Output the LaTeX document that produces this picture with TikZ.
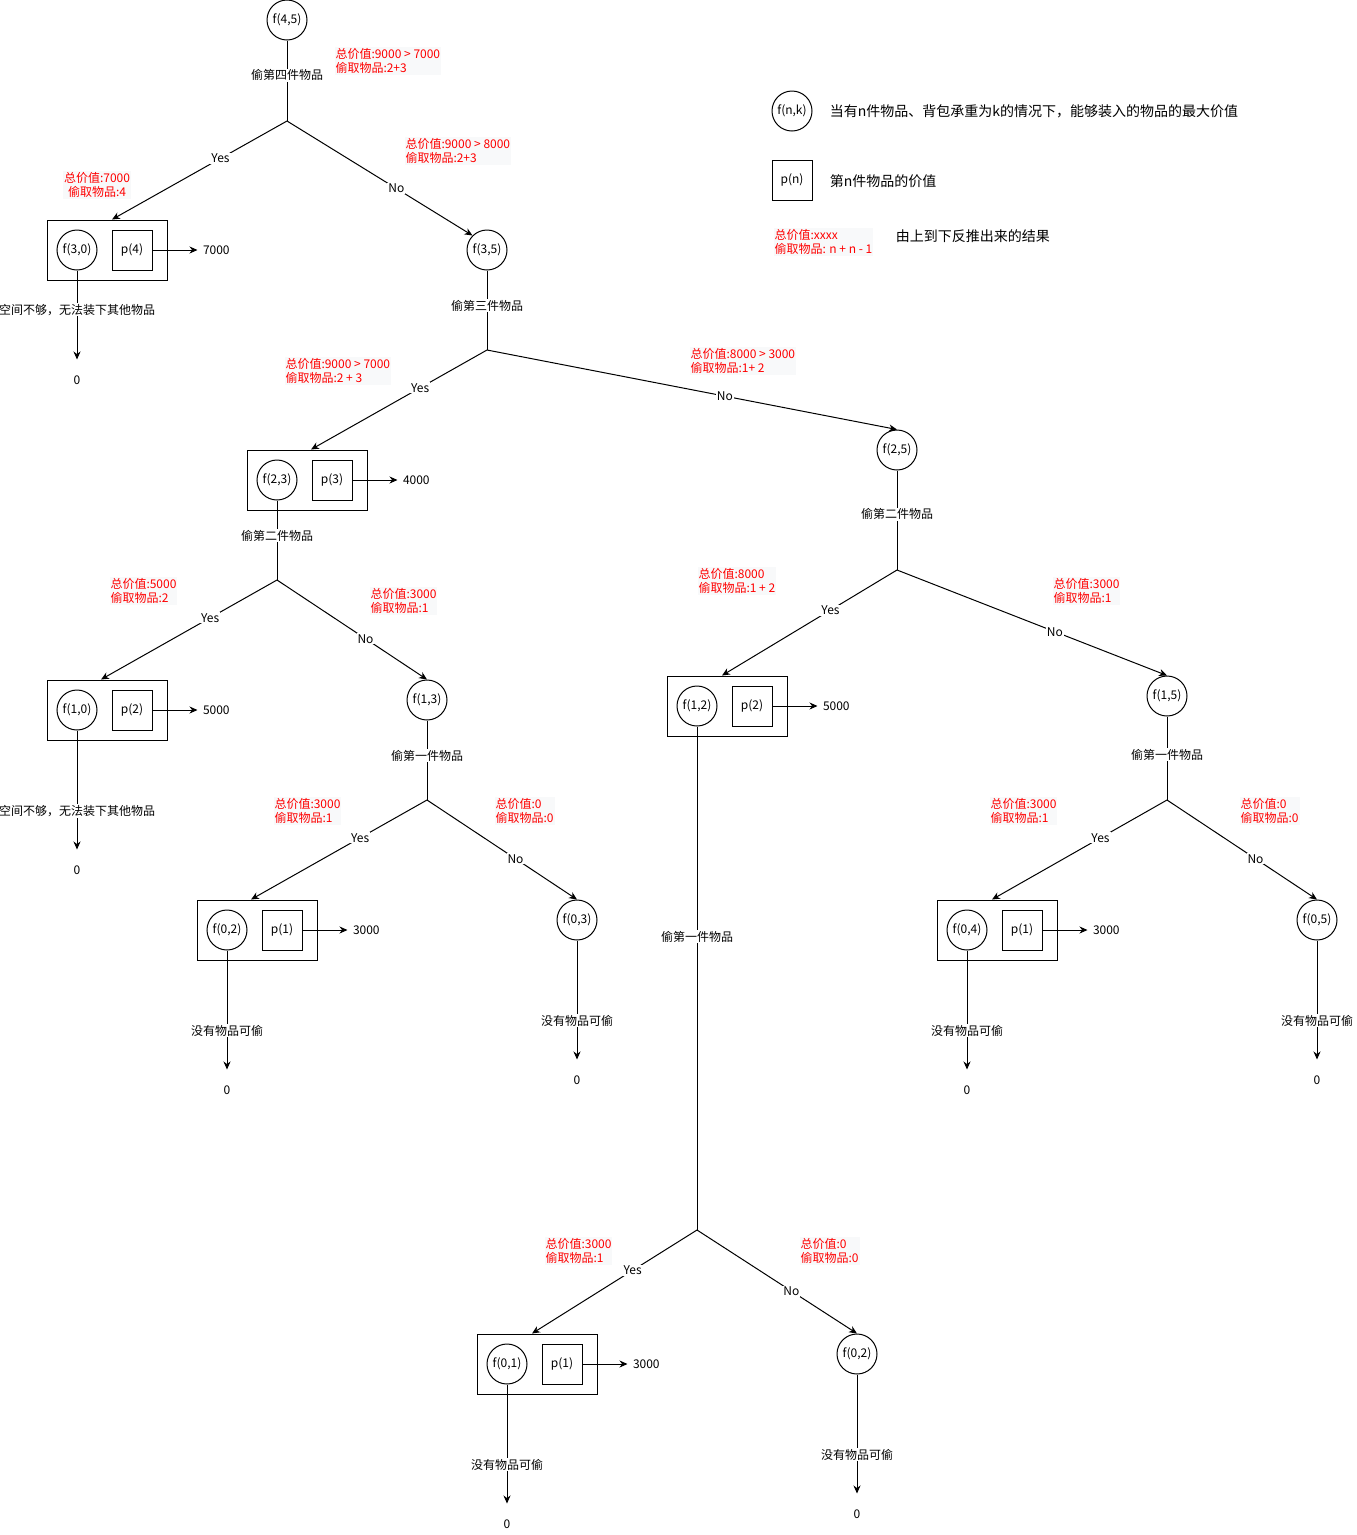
\documentclass[tikz,border=0pt]{standalone}
\usepackage{fontspec}
\setmainfont{Noto Sans CJK SC}
\usetikzlibrary{arrows.meta}
\definecolor{notebg}{RGB}{248,249,250}

\tikzset{
  fnode/.style={circle,draw,minimum size=40pt,inner sep=0pt},
  pnode/.style={rectangle,draw,minimum size=40pt,inner sep=0pt},
  outerbox/.style={rectangle,draw,minimum width=120pt,minimum height=60pt,inner sep=0pt},
  lbl/.style={fill=white,inner sep=1pt},
  note/.style={text=red,align=left,anchor=west,fill=notebg,inner sep=1pt},
  zero/.style={minimum height=40pt,inner sep=0pt},
  valnode/.style={anchor=west,inner xsep=5pt,inner ysep=1pt},
  legend/.style={anchor=west,font=\fontsize{14}{16}\selectfont},
  arr/.style={-{Stealth[length=8pt,width=7pt]}}
}

\newcommand\knapbox[6]{%
  \node[outerbox] (#1) at (#2,#3) {};
  \node[fnode] (#1f) at ([xshift=-30pt]#1.center) {#4};
  \node[pnode] (#1p) at ([xshift=25pt]#1.center) {#5};
  \node[valnode] (#1v) at ([xshift=45pt]#1p.east) {#6};
  \draw[arr] (#1p) -- (#1v);
}

\begin{document}
\begin{tikzpicture}[x=1pt,y=-1pt,line width=1pt,font=\fontsize{12}{14}\selectfont]
\useasboundingbox (0,0) rectangle (1357,1535);

% legend
\node[fnode] (lgf) at (792,111) {f(n,k)};
\node[legend] (lgft) at (826,111) {当有n件物品、背包承重为k的情况下，能够装入的物品的最大价值};
\node[pnode] (lgp) at (792,180) {p(n)};
\node[legend] (lgpt) at (826,181) {第n件物品的价值};
\node[note] (lgn) at (773,242) {总价值:xxxx\\偷取物品: n + n - 1};
\node[legend] (lgnt) at (892,236) {由上到下反推出来的结果};

% f(4,5)
\node[fnode] (f45) at (287,20) {f(4,5)};
\coordinate (b45) at (287,121);
\draw (f45) -- node[lbl,pos=0.43]{偷第四件物品} (b45);
\knapbox{k30}{107}{250}{f(3,0)}{p(4)}{7000}
\node[fnode] (f35) at (487,250) {f(3,5)};
\draw[arr] (b45) -- node[lbl,pos=0.38]{Yes} ([xshift=5pt]k30.north);
\draw[arr] (b45) -- node[lbl,pos=0.59]{No} (f35.north west);
\node[note] (n45a) at (334,61) {总价值:9000 > 7000\\偷取物品:2+3};
\node[note] (n45b) at (404,151) {总价值:9000 > 8000\\偷取物品:2+3};
\node[note,align=center,anchor=center] (n30) at (97,185) {总价值:7000\\偷取物品:4};
\node[zero] (z30) at (77,380) {0};
\draw[arr] (k30f) -- node[lbl,pos=0.44]{空间不够，无法装下其他物品} (z30);

% f(3,5)
\coordinate (b35) at (487,350);
\draw (f35) -- node[lbl,pos=0.44]{偷第三件物品} (b35);
\knapbox{k23}{307}{480}{f(2,3)}{p(3)}{4000}
\node[fnode] (f25) at (897,450) {f(2,5)};
\draw[arr] (b35) -- node[lbl,pos=0.38]{Yes} ([xshift=4pt]k23.north);
\draw[arr] (b35) -- node[lbl,pos=0.58]{No} (f25.north);
\node[note] (n23) at (284,371) {总价值:9000 > 7000\\偷取物品:2 + 3};
\node[note] (n25) at (689,361) {总价值:8000 > 3000\\偷取物品:1+ 2};

% f(2,3)
\coordinate (b23) at (277,580);
\draw (k23f) -- node[lbl,pos=0.44]{偷第二件物品} (b23);
\knapbox{k10}{107}{710}{f(1,0)}{p(2)}{5000}
\node[fnode] (f13) at (427,700) {f(1,3)};
\draw[arr] (b23) -- node[lbl,pos=0.38]{Yes} ([xshift=-6pt]k10.north);
\draw[arr] (b23) -- node[lbl,pos=0.59]{No} (f13.north);
\node[note] (n10) at (109,591) {总价值:5000\\偷取物品:2};
\node[note] (n13) at (369,601) {总价值:3000\\偷取物品:1};
\node[zero] (z10) at (77,870) {0};
\draw[arr] (k10f) -- node[lbl,pos=0.675]{空间不够，无法装下其他物品} (z10);

% f(1,3)
\coordinate (b13) at (427,800);
\draw (f13) -- node[lbl,pos=0.44]{偷第一件物品} (b13);
\knapbox{k02}{257}{930}{f(0,2)}{p(1)}{3000}
\node[fnode] (f03) at (577,920) {f(0,3)};
\draw[arr] (b13) -- node[lbl,pos=0.38]{Yes} ([xshift=-6pt]k02.north);
\draw[arr] (b13) -- node[lbl,pos=0.59]{No} (f03.north);
\node[note] (n02) at (273,811) {总价值:3000\\偷取物品:1};
\node[note] (n03) at (494,811) {总价值:0\\偷取物品:0};
\node[zero] (z02a) at (227,1090) {0};
\draw[arr] (k02f) -- node[lbl,pos=0.675]{没有物品可偷} (z02a);
\node[zero] (z03) at (577,1080) {0};
\draw[arr] (f03) -- node[lbl,pos=0.675]{没有物品可偷} (z03);

% f(2,5)
\coordinate (b25) at (897,570);
\draw (f25) -- node[lbl,pos=0.44]{偷第二件物品} (b25);
\knapbox{k12}{727}{706}{f(1,2)}{p(2)}{5000}
\node[fnode] (f15) at (1167,696) {f(1,5)};
\draw[arr] (b25) -- node[lbl,pos=0.38]{Yes} ([xshift=-5pt]k12.north);
\draw[arr] (b25) -- node[lbl,pos=0.585]{No} (f15.north);
\node[note] (n12) at (697,581) {总价值:8000\\偷取物品:1 + 2};
\node[note] (n15) at (1052,591) {总价值:3000\\偷取物品:1};

% f(1,2)
\coordinate (b12) at (697,1230);
\draw (k12f) -- node[lbl,pos=0.417]{偷第一件物品} (b12);
\knapbox{k01}{537}{1364}{f(0,1)}{p(1)}{3000}
\node[fnode] (f02) at (857,1354) {f(0,2)};
\draw[arr] (b12) -- node[lbl,pos=0.39]{Yes} ([xshift=-5pt]k01.north);
\draw[arr] (b12) -- node[lbl,pos=0.59]{No} (f02.north);
\node[note] (n01) at (544,1251) {总价值:3000\\偷取物品:1};
\node[note] (n02b) at (799,1251) {总价值:0\\偷取物品:0};
\node[zero] (z01) at (507,1524) {0};
\draw[arr] (k01f) -- node[lbl,pos=0.675]{没有物品可偷} (z01);
\node[zero] (z02b) at (857,1514) {0};
\draw[arr] (f02) -- node[lbl,pos=0.675]{没有物品可偷} (z02b);

% f(1,5)
\coordinate (b15) at (1167,800);
\draw (f15) -- node[lbl,pos=0.46]{偷第一件物品} (b15);
\knapbox{k04}{997}{930}{f(0,4)}{p(1)}{3000}
\node[fnode] (f05) at (1317,920) {f(0,5)};
\draw[arr] (b15) -- node[lbl,pos=0.38]{Yes} ([xshift=-5pt]k04.north);
\draw[arr] (b15) -- node[lbl,pos=0.59]{No} (f05.north);
\node[note] (n04) at (989,811) {总价值:3000\\偷取物品:1};
\node[note] (n05) at (1239,811) {总价值:0\\偷取物品:0};
\node[zero] (z04) at (967,1090) {0};
\draw[arr] (k04f) -- node[lbl,pos=0.675]{没有物品可偷} (z04);
\node[zero] (z05) at (1317,1080) {0};
\draw[arr] (f05) -- node[lbl,pos=0.675]{没有物品可偷} (z05);
\end{tikzpicture}
\end{document}
